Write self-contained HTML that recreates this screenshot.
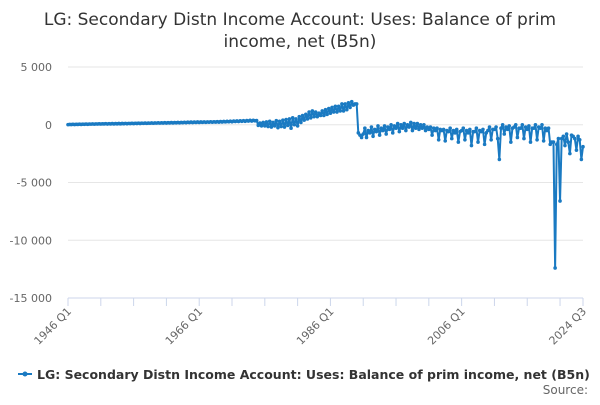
<!DOCTYPE html>
<html><head><meta charset="utf-8"><style>
body{margin:0;background:#fff;font-family:"Liberation Sans","DejaVu Sans",sans-serif}
svg text{font-family:"DejaVu Sans","Liberation Sans",sans-serif}
</style></head><body>
<svg id="chart" width="600" height="400" viewBox="0 0 600 400">
<text x="300" y="25" text-anchor="middle" font-size="17" fill="#333">LG: Secondary Distn Income Account: Uses: Balance of prim</text>
<text x="300" y="47" text-anchor="middle" font-size="17" fill="#333">income, net (B5n)</text>
<g id="grid"></g><g id="xaxis"></g><g id="series"></g>
<g>
<line x1="18" y1="374" x2="32" y2="374" stroke="#1a7ac2" stroke-width="2"/>
<circle cx="25" cy="374" r="2.5" fill="#1a7ac2"/>
<text x="37" y="379" font-size="12.5" font-weight="bold" fill="#333">LG: Secondary Distn Income Account: Uses: Balance of prim income, net (B5n)</text>
</g>
<text x="588" y="394" text-anchor="end" font-size="12" fill="#666">Source:</text>
</svg>
<script>
const yTicks=[5000,0,-5000,-10000,-15000];
const yTickLabels=["5 000","0","-5 000","-10 000","-15 000"];
const xLabels=["1946 Q1","1966 Q1","1986 Q1","2006 Q1","2024 Q3"];
const xLabelIdx=[0,80,160,240,314];
const values=[
10,30,20,40, 20,40,30,50, 30,50,40,60, 40,60,50,70, 50,70,60,80,
60,80,70,90, 60,90,70,100, 70,100,80,110, 80,110,90,120, 90,120,100,130,
100,130,110,140, 110,140,120,150, 120,150,130,160, 130,160,140,170, 140,170,150,180,
150,180,160,190, 160,190,170,200, 170,200,180,210, 180,220,190,230, 190,230,200,240,
200,240,210,250, 210,250,220,260, 220,260,230,270, 230,280,240,290, 250,300,260,310,
260,320,280,330, 280,340,300,350, 300,360,320,380, 320,380,340,360,
-50,150,-100,200, -100,250,-150,300, -200,200,-100,350, -250,300,-150,400, -200,450,-50,500,
-300,600,0,500, -100,700,200,800, 400,900,500,1100, 600,1200,700,1100, 700,1000,800,1200,
800,1300,900,1400, 1000,1500,1100,1600, 1100,1600,1200,1800, 1200,1800,1300,1900, 1500,2000,1700,1800,
1800,-700,-900,-1100, -800,-300,-1100,-500, -700,-200,-1000,-400, -600,-100,-900,-300, -500,-100,-800,-200,
-400,0,-700,-100, -300,100,-600,0, -300,100,-500,0, -200,200,-500,100, -300,100,-400,0,
-300,0,-500,-200, -400,-200,-900,-300, -500,-300,-1300,-400, -500,-400,-1400,-500, -600,-300,-1200,-500,
-700,-400,-1500,-600, -500,-300,-1300,-500, -700,-400,-1800,-600, -600,-300,-1500,-500, -600,-400,-1700,-700,
-500,-200,-1300,-400, -400,-200,-1200,-3000, -300,0,-800,-200, -400,-100,-1500,-300, -200,0,-1100,-300,
-300,0,-1200,-200, -400,-100,-1500,-300, -300,0,-1300,-200, -300,0,-1400,-300, -500,-300,-1700,-1500,
-1500,-12400,-1700,-1200, -6600,-1200,-1000,-1800, -800,-1500,-2500,-900, -1000,-1200,-2200,-1000,
-1300,-3000,-1900
];
const NS="http://www.w3.org/2000/svg";
const x0=68,x1=583,yTop=67,yBot=298,vTop=5000,vBot=-15000;
const xs=i=>x0+(x1-x0)*i/(values.length-1);
const ys=v=>yTop+(vTop-v)*(yBot-yTop)/(vTop-vBot);
function mk(t,a,p){const e=document.createElementNS(NS,t);for(const k in a)e.setAttribute(k,a[k]);p.appendChild(e);return e;}
const grid=document.getElementById('grid');
yTicks.forEach((v,i)=>{
 const y=ys(v);
 const l=mk('line',{x1:x0,x2:x1,y1:y,y2:y,stroke:v===vBot?'#ccd6eb':'#e6e6e6','stroke-width':1},grid);
 
 
 const t=mk('text',{x:52,y:y+4,'text-anchor':'end','font-size':11,fill:'#666'},grid);
 t.textContent=yTickLabels[i];
 
 
});
const xa=document.getElementById('xaxis');
for(let i=0;i<values.length;i+=20){
 const tk=mk('line',{x1:xs(i),x2:xs(i),y1:yBot,y2:yBot+8,stroke:'#ccd6eb'},xa);
 
 
}
const tl=mk('line',{x1:xs(values.length-1),x2:xs(values.length-1),y1:yBot,y2:yBot+8,stroke:'#ccd6eb'},xa);


xLabels.forEach((s,k)=>{
 const x=xs(xLabelIdx[k]),y=yBot+14;
 const t=mk('text',{x:x+4,y:y,'text-anchor':'end','font-size':11,fill:'#666',transform:`rotate(-45 ${x+4} ${y})`},xa);
 t.textContent=s;
 
 
});
const sg=document.getElementById('series');
const p=mk('path',{d:values.map((v,i)=>(i?'L':'M')+xs(i).toFixed(2)+' '+ys(v).toFixed(2)).join(''),fill:'none',stroke:'#1a7ac2','stroke-width':2,'stroke-linejoin':'round'},sg);


values.forEach((v,i)=>{
 const c=mk('circle',{cx:xs(i),cy:ys(v),r:1.8,fill:'#1a7ac2'},sg);
 
 
});
</script>
</body></html>
